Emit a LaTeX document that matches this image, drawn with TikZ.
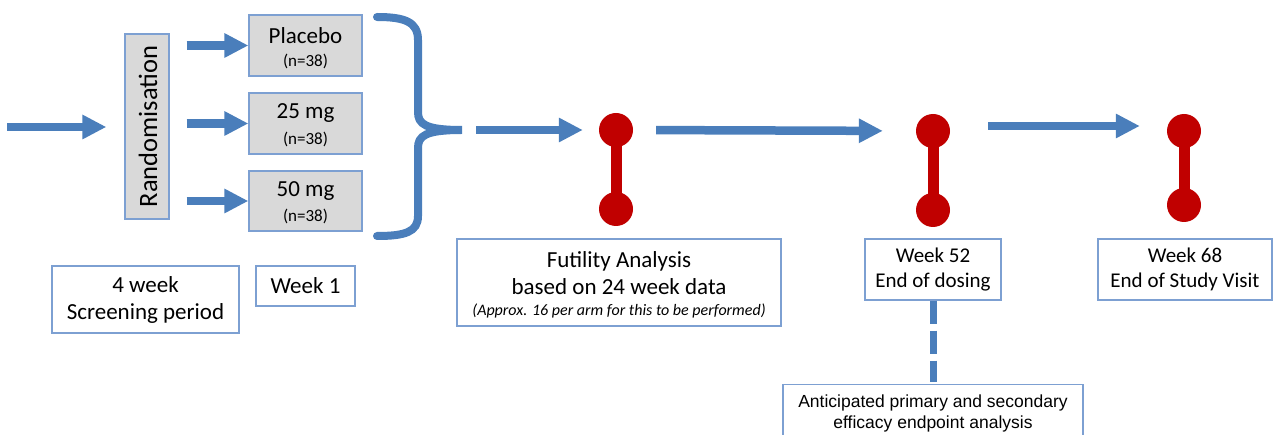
\documentclass[tikz,border=0pt]{standalone}
\usepackage{fontspec}
\setmainfont{Carlito}
\newfontfamily\arialf{Liberation Sans}
\usetikzlibrary{arrows.meta}
\definecolor{arrblue}{RGB}{74,126,187}
\definecolor{boxblue}{RGB}{125,160,210}
\definecolor{grayfill}{RGB}{217,217,217}
\definecolor{dred}{RGB}{192,0,0}
\begin{document}
\begin{tikzpicture}[x=1pt,y=-1pt,
  bigarrow/.style={draw=arrblue, line width=8.5pt, -{Triangle[length=24pt,width=23pt]}},
  wbox/.style={draw=boxblue, line width=1.3pt, fill=white, align=center, inner sep=0pt},
  gbox/.style={draw=boxblue, line width=1.3pt, fill=grayfill, align=center, inner sep=0pt},
  dot/.style={circle, fill=dred, minimum size=34pt, inner sep=0pt},
  stem/.style={draw=dred, line width=11pt},
  big/.style={font=\fontsize{23}{27}\selectfont, align=center},
  mid/.style={font=\fontsize{21}{25}\selectfont, align=center},
  small/.style={font=\fontsize{17}{20}\selectfont},
  ]
\useasboundingbox (0,0) rectangle (1273,435);
\clip (0,0) rectangle (1273,435);

% boxes
\node[gbox, minimum width=44pt, minimum height=185pt] (rand) at (147,126.5) {};
\node[rotate=90, font=\fontsize{26.5}{28}\selectfont] (randt) at (148,126.5) {Randomisation};
\node[gbox, minimum width=113pt, minimum height=61pt] (pla) at (305.5,45.5) {};
\node[big] (plat) at (305.5,36) {Placebo};
\node[small] (plan) at (305.5,61) {(n=38)};
\node[gbox, minimum width=113pt, minimum height=61pt] (m25) at (305.5,123.5) {};
\node[big] (m25t) at (305.5,113) {25 mg};
\node[small] (m25n) at (305.5,139) {(n=38)};
\node[gbox, minimum width=113pt, minimum height=60pt] (m50) at (305.5,201) {};
\node[big] (m50t) at (305.5,191) {50 mg};
\node[small] (m50n) at (305.5,216) {(n=38)};

\node[wbox, minimum width=187pt, minimum height=67pt, big] (scr) at (145.5,299.5) {4 week\\Screening period};
\node[wbox, minimum width=99pt, minimum height=40pt, big] (wk1) at (305.5,286) {Week 1};
\node[wbox, minimum width=324pt, minimum height=87pt] (fut) at (619,282.5) {};
\node[big] (futt) at (619,273) {Futility Analysis\\based on 24 week data};
\node[font=\fontsize{16}{18}\selectfont\itshape] (futn) at (619,311) {(Approx. 16 per arm for this to be performed)};
\node[wbox, minimum width=136pt, minimum height=61pt, mid] (w52) at (933,269.5) {Week 52\\End of dosing};
\node[wbox, minimum width=174pt, minimum height=61pt, mid] (w68) at (1185,269.5) {Week 68\\End of Study Visit};
\node[wbox, minimum width=300pt, minimum height=70pt, anchor=north] (ant) at (933,384) {};
\node[font=\arialf\fontsize{17.5}{21}\selectfont, align=center] (antt) at (933,413) {Anticipated primary and secondary\\efficacy endpoint analysis};

% dumbbells
\node[dot] (d1t) at (616,130) {};
\node[dot] (d1b) at (616,209) {};
\node[dot] (d2t) at (933,131) {};
\node[dot] (d2b) at (933,210) {};
\node[dot] (d3t) at (1184,131) {};
\node[dot] (d3b) at (1184,205) {};
\draw[stem] (d1t.center) -- (d1b.center);
\draw[stem] (d2t.center) -- (d2b.center);
\draw[stem] (d3t.center) -- (d3b.center);

% arrows
\coordinate (s0) at (7,127);
\draw[bigarrow, shorten >=18pt] (s0) -- (s0 -| rand.west);
\draw[bigarrow, shorten <=17pt] (rand.east |- pla.west) -- (pla.west);
\draw[bigarrow, shorten <=17pt] (rand.east |- m25.west) -- (m25.west);
\draw[bigarrow, shorten <=17pt] (rand.east |- m50.west) -- (m50.west);

% brace
\coordinate (btip) at (462,130);
\draw[arrblue, line width=8pt, line cap=round]
  (377,17) .. controls (405,17) and (418,22) .. (418,40) -- (418,112)
  .. controls (418,124) and (425,130) .. (btip)
  .. controls (425,130) and (418,136) .. (418,148) -- (418,216)
  .. controls (418,232) and (405,236) .. (377,236);

\draw[bigarrow, shorten <=14pt, shorten >=16pt] (btip) -- (d1t);
\draw[bigarrow, shorten <=23pt, shorten >=33pt] (d1t.east) -- (d2t.west);
\draw[bigarrow, shorten <=38pt, shorten >=27pt] ([yshift=5pt]d2t.east) -- ([yshift=5pt]d3t.west);
\draw[draw=arrblue, line width=7pt, dash pattern=on 23pt off 7pt, shorten >=2pt] (w52.south) -- (ant.north);
\end{tikzpicture}
\end{document}
